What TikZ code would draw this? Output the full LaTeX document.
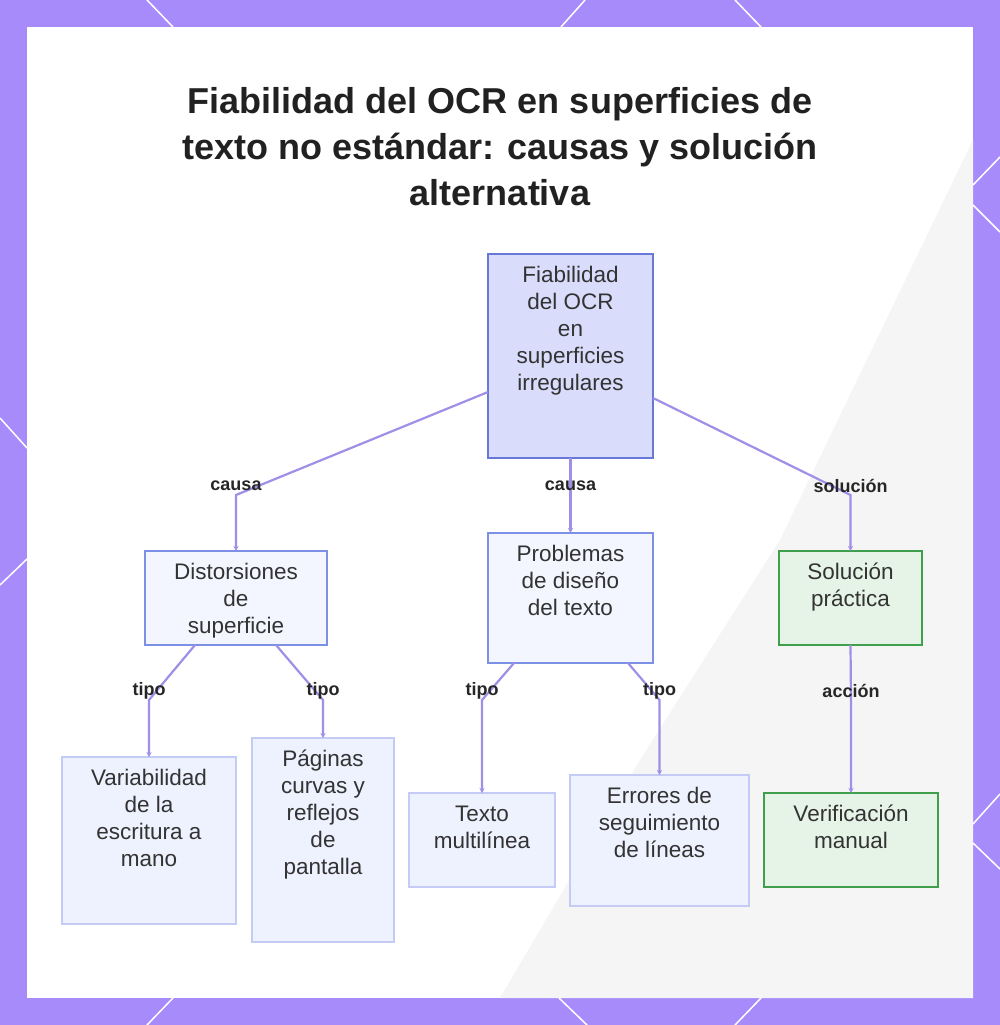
\documentclass[tikz,border=0pt]{standalone}
\usepackage{fontspec}
\setmainfont{Liberation Sans}
\usetikzlibrary{arrows.meta}

\definecolor{viola}{HTML}{A78BFA}
\definecolor{linea}{HTML}{A08EE7}
\definecolor{bordoraiz}{HTML}{6878D6}
\definecolor{fondoraiz}{HTML}{D9DCFB}
\definecolor{bordocausa}{HTML}{7C90E6}
\definecolor{fondocausa}{HTML}{F4F6FF}
\definecolor{bordohoja}{HTML}{C4CCF5}
\definecolor{fondohoja}{HTML}{EEF1FE}
\definecolor{bordosol}{HTML}{3F9F4C}
\definecolor{fondosol}{HTML}{E6F4E7}
\definecolor{texto}{HTML}{333333}

% text at the top of a box of fixed size
\newcommand{\caja}[3]{\parbox[c][#2][t]{#1}{\centering\vspace*{10pt}\strut#3}}

\begin{document}
\begin{tikzpicture}[x=1pt,y=-1pt,
  scatola/.style={inner sep=0pt,outer sep=0pt,line width=1.8pt,anchor=north west,text=texto,
    font=\fontsize{22.5}{27}\selectfont},
  raiz/.style={scatola,draw=bordoraiz,fill=fondoraiz},
  causa/.style={scatola,draw=bordocausa,fill=fondocausa},
  hoja/.style={scatola,draw=bordohoja,fill=fondohoja},
  sol/.style={scatola,draw=bordosol,fill=fondosol},
  flecha/.style={draw=linea,line width=2.2pt,-{Stealth[length=5pt,width=5pt]}},
  etiqueta/.style={yshift=9pt,text=black!85,font=\fontsize{18}{20}\selectfont\bfseries},
  borde/.style={white,line width=1.5pt}]

\useasboundingbox (0,0) rectangle (1000,1025);
\fill[viola] (0,0) rectangle (1000,1025);
\fill[white] (27,27) rectangle (973,998);
\fill[black!4] (973,140) -- (973,998) -- (500,998) -- (640,760) -- (780,540) -- cycle;

% white strokes on the frame
\draw[borde] (147,0) -- (173,27);
\draw[borde] (585,0) -- (561,27);
\draw[borde] (735,0) -- (761,27);
\draw[borde] (173,998) -- (147,1025);
\draw[borde] (559,998) -- (587,1025);
\draw[borde] (761,998) -- (735,1025);
\draw[borde] (0,418) -- (27,448);
\draw[borde] (27,559) -- (0,585);
\draw[borde] (973,185) -- (1000,157);
\draw[borde] (973,205) -- (1000,232);
\draw[borde] (973,824) -- (1000,794);
\draw[borde] (973,843) -- (1000,869);

\node[text=black!87,align=center,font=\fontsize{36}{46}\selectfont\bfseries] (titulo) at (500,147)
  {Fiabilidad del OCR en superficies de\\texto no estándar: causas y solución\\alternativa};

\node[raiz] (raiz) at (488,254) {\caja{165pt}{204pt}{Fiabilidad\\del OCR\\en\\superficies\\irregulares}};
\node[causa] (dist) at (145,551) {\caja{182pt}{94pt}{Distorsiones\\de\\superficie}};
\node[causa] (prob) at (488,533) {\caja{165pt}{130pt}{Problemas\\de diseño\\del texto}};
\node[sol] (sol) at (779,551) {\caja{143pt}{94pt}{Solución\\práctica}};
\node[hoja] (vari) at (62,757) {\caja{174pt}{167pt}{Variabilidad\\de la\\escritura a\\mano}};
\node[hoja] (pag) at (252,738) {\caja{142pt}{204pt}{Páginas\\curvas y\\reflejos\\de\\pantalla}};
\node[hoja] (multi) at (409,793) {\caja{146pt}{94pt}{Texto\\multilínea}};
\node[hoja] (err) at (570,775) {\caja{179pt}{131pt}{Errores de\\seguimiento\\de líneas}};
\node[sol] (verif) at (764,793) {\caja{174pt}{94pt}{Verificación\\manual}};

\draw[flecha] ([yshift=66pt]raiz.south west) -- (dist.north |- 0,495) node[etiqueta] {causa} -- (dist.north);
\draw[flecha] (raiz.south) -- (prob.north |- 0,495) node[etiqueta] {causa} -- (prob.north);
\draw[flecha] ([yshift=60pt]raiz.south east) -- (sol.north |- 0,495) node[etiqueta] {solución} -- (sol.north);

\draw[flecha] ([xshift=50pt]dist.south west) -- (vari.north |- 0,700) node[etiqueta] {tipo} -- (vari.north);
\draw[flecha] ([xshift=-51pt]dist.south east) -- (pag.north |- 0,700) node[etiqueta] {tipo} -- (pag.north);
\draw[flecha] ([xshift=26pt]prob.south west) -- (multi.north |- 0,700) node[etiqueta] {tipo} -- (multi.north);
\draw[flecha] ([xshift=-25pt]prob.south east) -- (err.north |- 0,700) node[etiqueta] {tipo} -- (err.north);
\draw[flecha] (sol.south) -- (verif.north |- 0,700) node[etiqueta] {acción} -- (verif.north);

\end{tikzpicture}
\end{document}
